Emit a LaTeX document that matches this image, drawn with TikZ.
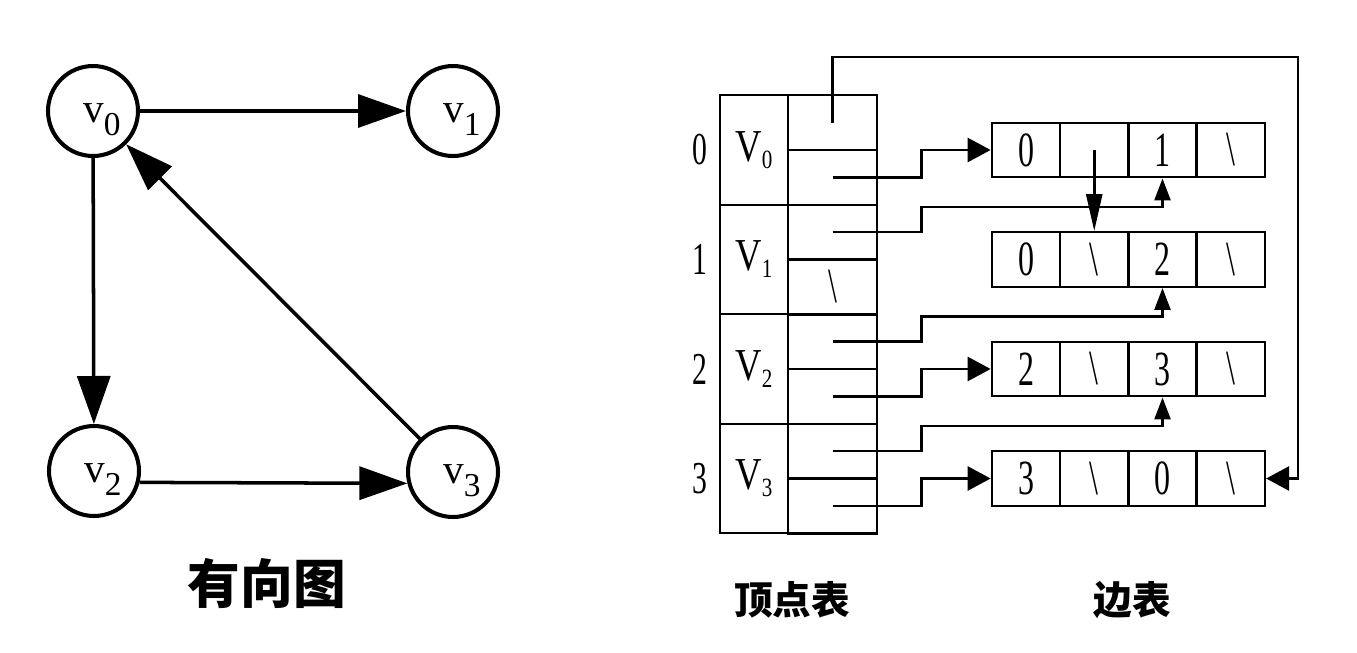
\documentclass[tikz,border=0pt]{standalone}
\usepackage{graphicx}
\usepackage{fontspec}
\setmainfont{Liberation Serif}
\newfontfamily\cjk{Noto Sans CJK SC}
\usetikzlibrary{arrows.meta,positioning}
\newcommand{\vsub}[2]{\hspace*{10pt}#1\raisebox{-7.4pt}{\fontsize{19pt}{19pt}\selectfont #2}}
\newcommand{\Vsub}[2]{\scalebox{0.8}[1]{#1\raisebox{-4pt}{\fontsize{15pt}{15pt}\selectfont #2}}}
\newcommand{\sq}[1]{\scalebox{0.65}[1]{#1}}
\newcommand{\nilptr}{\textbackslash}
\tikzset{
  vert/.style={
    shape = circle,
    draw,
    line width = 2.3pt,
    minimum size = 1.8cm,
    inner sep = 0pt,
    text height = 16pt,
    text depth = 3.4pt,
    font = \fontsize{23.5pt}{24pt}\selectfont
  },
  gedge/.style={
    line width = 2pt,
    -{Triangle[length=9.6mm,width=6.6mm]}
  },
  cell/.style={
    shape = rectangle,
    draw,
    line width = 1.4pt,
    inner sep = 0pt,
    minimum width = 1.365cm,
    minimum height = 1.09cm,
    font = \fontsize{28pt}{28pt}\selectfont
  },
  vcell/.style={
    cell,
    minimum width = 1.36cm,
    minimum height = 2.19cm,
    font = \fontsize{26pt}{26pt}\selectfont
  },
  pcell/.style={
    cell,
    minimum width = 1.78cm,
    minimum height = 1.095cm
  },
  idx/.style={
    inner sep = 0pt,
    font = \fontsize{26pt}{26pt}\selectfont
  },
  ptr/.style={
    line width = 1.5pt
  },
  harr/.style={
    ptr,
    -{Triangle[length=4.6mm,width=4.8mm]}
  },
  uarr/.style={
    ptr,
    -{Triangle[length=4.4mm,width=3.2mm]}
  },
  title/.style={
    inner sep = 0pt,
    font = \cjk\bfseries\fontsize{30pt}{30pt}\selectfont
  },
  subtitle/.style={
    inner sep = 0pt,
    font = \cjk\bfseries\fontsize{22pt}{22pt}\selectfont
  }
}
\begin{document}
\begin{tikzpicture}[x=0.02cm, y=-0.02cm]
  \useasboundingbox (0,0) rectangle (1357,653);
  \node[vert] (v0) at (93,111) {\vsub{v}{0}};
  \node[vert] (v1) at (453,111) {\vsub{v}{1}};
  \node[vert] (v2) at (94,471) {\vsub{v}{2}};
  \node[vert] (v3) at (453,472) {\vsub{v}{3}};
  \draw[gedge] (v0) -- (v1);
  \draw[gedge] (v0) -- (v2);
  \draw[gedge] (v2.-14) -- (v3.194);
  \draw[gedge] (v3) -- (v0);
  \node[title] (graph) at (267,583) {有向图};

  \foreach \r in {0,...,3}{
    \node[idx] (i\r) at (700,{150+109.5*\r}) {\sq{\r}};
    \node[vcell] (t\r) at (754,{150+109.5*\r}) {\Vsub{V}{\r}};
    \node[pcell] (p\r a) at (832.5,{122.6+109.5*\r}) {};
    \node[pcell] (p\r b) at (832.5,{177.4+109.5*\r}) {};
  }
  \node[font=\fontsize{28pt}{28pt}\selectfont] (p1nil) at (p1b) {\sq{\nilptr}};

  \foreach \r/\a/\b/\c in {0/0/{}/1, 1/0/\nilptr/2, 2/2/\nilptr/3, 3/3/\nilptr/0}{
    \node[cell] (e\r-0) at (1026,{150+109.5*\r}) {\sq{\a}};
    \node[cell] (e\r-1) at (1094.25,{150+109.5*\r}) {\sq{\b}};
    \node[cell] (e\r-2) at (1162.5,{150+109.5*\r}) {\sq{\c}};
    \node[cell] (e\r-3) at (1230.75,{150+109.5*\r}) {\sq{\nilptr}};
  }

  \coordinate (top) at (1298,57);
  \draw[harr] (p0a.center) |- (top) |- (e3-3.east);
  \draw[harr] (p0b.center) -- ++(89,0) |- (e0-0.west);
  \draw[uarr] (p1a.center) -- ++(89,0) -- ++(0,-25) -| (e0-2.south);
  \draw[uarr] (p2a.center) -- ++(89,0) -- ++(0,-25) -| (e1-2.south);
  \draw[harr] (p2b.center) -- ++(89,0) |- (e2-0.west);
  \draw[uarr] (p3a.center) -- ++(89,0) -- ++(0,-25) -| (e2-2.south);
  \draw[harr] (p3b.center) -- ++(89,0) |- (e3-0.west);
  \draw[ptr, -{Triangle[length=7.4mm,width=3.2mm]}] (e0-1.center) -- (e1-1.north);

  \node[subtitle] (vtab) at (792,600) {顶点表};
  \node[subtitle] (etab) at (1132,600) {边表};
\end{tikzpicture}
\end{document}
